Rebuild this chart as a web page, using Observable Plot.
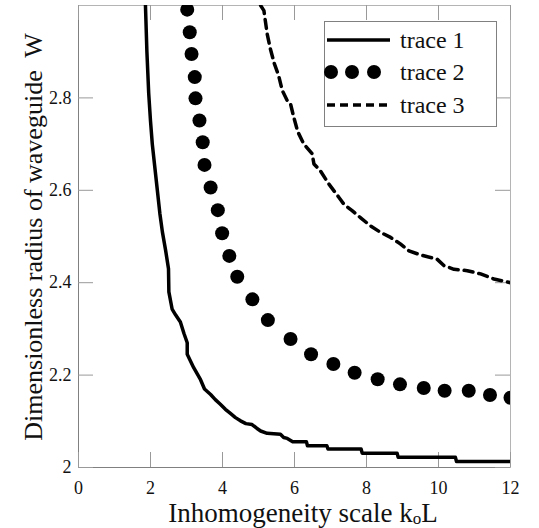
<!DOCTYPE html>
<html><head><meta charset="utf-8">
<script src="https://cdn.jsdelivr.net/npm/d3@7"></script>
<script src="https://cdn.jsdelivr.net/npm/@observablehq/plot@0.6"></script>
<style>body{margin:0;background:#fff;}</style>
</head><body><div id="chart"></div>
<script>
// ---- data ----
const seriesNames = ["trace 1", "trace 2", "trace 3"];
const trace1X = [1.86,1.90,1.95,2.00,2.05,2.12,2.19,2.26,2.33,2.42,2.50,2.51,2.60,2.70,2.83,2.93,3.02,3.02,3.20,3.39,3.50,3.67,3.80,3.94,4.08,4.22,4.36,4.50,4.65,4.82,4.95,5.06,5.24,5.61,5.70,5.80,5.95,6.33,6.36,6.90,6.93,7.85,7.88,8.85,8.88,10.47,10.50,12.00];
const trace1Y = [3.00,2.90,2.81,2.75,2.70,2.65,2.60,2.55,2.51,2.47,2.43,2.38,2.343,2.33,2.315,2.29,2.27,2.245,2.216,2.19,2.17,2.158,2.147,2.137,2.126,2.117,2.108,2.101,2.095,2.093,2.085,2.079,2.074,2.072,2.065,2.063,2.056,2.056,2.047,2.047,2.040,2.040,2.031,2.031,2.022,2.022,2.013,2.013];
const trace2X = [3.02,3.09,3.14,3.23,3.25,3.36,3.45,3.50,3.67,3.87,3.99,4.19,4.41,4.83,5.26,5.89,6.46,7.08,7.67,8.31,8.93,9.59,10.17,10.84,11.43,12.00];
const trace2Y = [2.991,2.942,2.895,2.845,2.799,2.751,2.704,2.655,2.606,2.557,2.507,2.458,2.413,2.364,2.319,2.278,2.245,2.224,2.205,2.191,2.180,2.172,2.166,2.166,2.157,2.151];
const trace3X = [5.06,5.15,5.24,5.33,5.44,5.56,5.66,5.80,5.89,5.98,6.09,6.26,6.49,6.54,6.72,6.95,7.23,7.37,7.60,7.83,8.11,8.39,8.67,8.94,9.18,9.50,9.96,10.15,10.43,10.80,11.17,11.54,12.00];
const trace3Y = [3.00,2.989,2.939,2.906,2.874,2.848,2.816,2.794,2.787,2.758,2.727,2.700,2.679,2.657,2.642,2.614,2.585,2.570,2.556,2.541,2.523,2.509,2.498,2.484,2.469,2.460,2.451,2.437,2.429,2.426,2.419,2.408,2.400];
const xTicks = [0, 2, 4, 6, 8, 10, 12];
const xTickLabels = ["0", "2", "4", "6", "8", "10", "12"];
const yTicks = [2, 2.2, 2.4, 2.6, 2.8];
const yTickLabels = ["2", "2.2", "2.4", "2.6", "2.8"];
const xTitleMain = "Inhomogeneity scale k";
const xTitleSub = "o";
const xTitleEnd = "L";
const yTitle = "Dimensionless radius of waveguide  W";

// ---- build ----
const toRows = (xs, ys) => xs.map((x, i) => ({x, y: ys[i]}));
const t1 = toRows(trace1X, trace1Y), t2 = toRows(trace2X, trace2Y), t3 = toRows(trace3X, trace3Y);

const W = 539, H = 528, mL = 78, mR = 29, mT = 5, mB = 61;
const fw = W - mL - mR, fh = H - mT - mB, tk = 15;
const FONT = "'Liberation Serif', 'Times New Roman', serif";

const svgNode = Plot.plot({
  width: W, height: H,
  marginLeft: mL, marginRight: mR, marginTop: mT, marginBottom: mB,
  style: {fontFamily: FONT, fontSize: "18px", color: "#111", background: "#fff"},
  x: {domain: [0, 12]},
  y: {domain: [2, 3]},
  marks: [
    Plot.frame({stroke: "#b4b4b4"}),
    Plot.ruleX([0], {stroke: "#808080"}),
    Plot.ruleY([2], {stroke: "#808080"}),
    Plot.tickX(xTicks, {x: d => d, stroke: "#999", insetTop: fh - tk}),
    Plot.tickX(xTicks, {x: d => d, stroke: "#999", insetBottom: fh - tk}),
    Plot.tickY(yTicks, {y: d => d, stroke: "#999", insetRight: fw - tk}),
    Plot.tickY(yTicks, {y: d => d, stroke: "#999", insetLeft: fw - tk}),
    Plot.axisX(xTicks, {tickSize: 0, tickPadding: 14, label: null, fill: "#111", fontSize: 18,
      tickFormat: d => xTickLabels[xTicks.indexOf(d)]}),
    Plot.axisY(yTicks, {tickSize: 0, tickPadding: 7, label: null, fill: "#111", fontSize: 18,
      tickFormat: d => yTickLabels[yTicks.indexOf(d)]}),
    Plot.line(t1, {x: "x", y: "y", stroke: "#000", strokeWidth: 3.5, clip: true}),
    Plot.dot(t2, {x: "x", y: "y", r: 7, fill: "#000", stroke: "none", clip: true}),
    Plot.line(t3, {x: "x", y: "y", stroke: "#000", strokeWidth: 3.5, strokeDasharray: "9,6", clip: true})
  ]
});

const svg = d3.select(svgNode);
// x title
const xt = svg.append("text").attr("x", 303).attr("y", 522).attr("text-anchor", "middle")
  .attr("font-family", FONT).attr("font-size", 27).attr("fill", "#111");
xt.append("tspan").text(xTitleMain);
xt.append("tspan").attr("font-size", 17).attr("dy", 2).text(xTitleSub);
xt.append("tspan").attr("dy", -2).text(xTitleEnd);
// y title
svg.append("text").attr("transform", "translate(42,237) rotate(-90)").attr("text-anchor", "middle")
  .attr("font-family", FONT).attr("font-size", 26).attr("fill", "#111").style("white-space", "pre").text(yTitle);

// legend
const lg = svg.append("g").attr("text-anchor", "start");
lg.append("rect").attr("x", 324.5).attr("y", 21.5).attr("width", 172).attr("height", 105)
  .attr("fill", "#fff").attr("stroke", "#808080");
const rowsY = [40, 72, 105];
lg.append("line").attr("x1", 327).attr("x2", 390).attr("y1", rowsY[0]).attr("y2", rowsY[0])
  .attr("stroke", "#000").attr("stroke-width", 3.5);
[331, 352, 374].forEach(cx => lg.append("circle").attr("cx", cx).attr("cy", rowsY[1]).attr("r", 7).attr("fill", "#000"));
lg.append("line").attr("x1", 327).attr("x2", 390).attr("y1", rowsY[2]).attr("y2", rowsY[2])
  .attr("stroke", "#000").attr("stroke-width", 3.5).attr("stroke-dasharray", "8,5");
seriesNames.forEach((s, i) => lg.append("text").attr("x", 400).attr("y", rowsY[i]).attr("dy", "0.35em")
  .attr("text-anchor", "start")
  .attr("font-family", FONT).attr("font-size", 24).attr("fill", "#111").text(s));

document.getElementById("chart").appendChild(svgNode);
</script>
</body></html>
